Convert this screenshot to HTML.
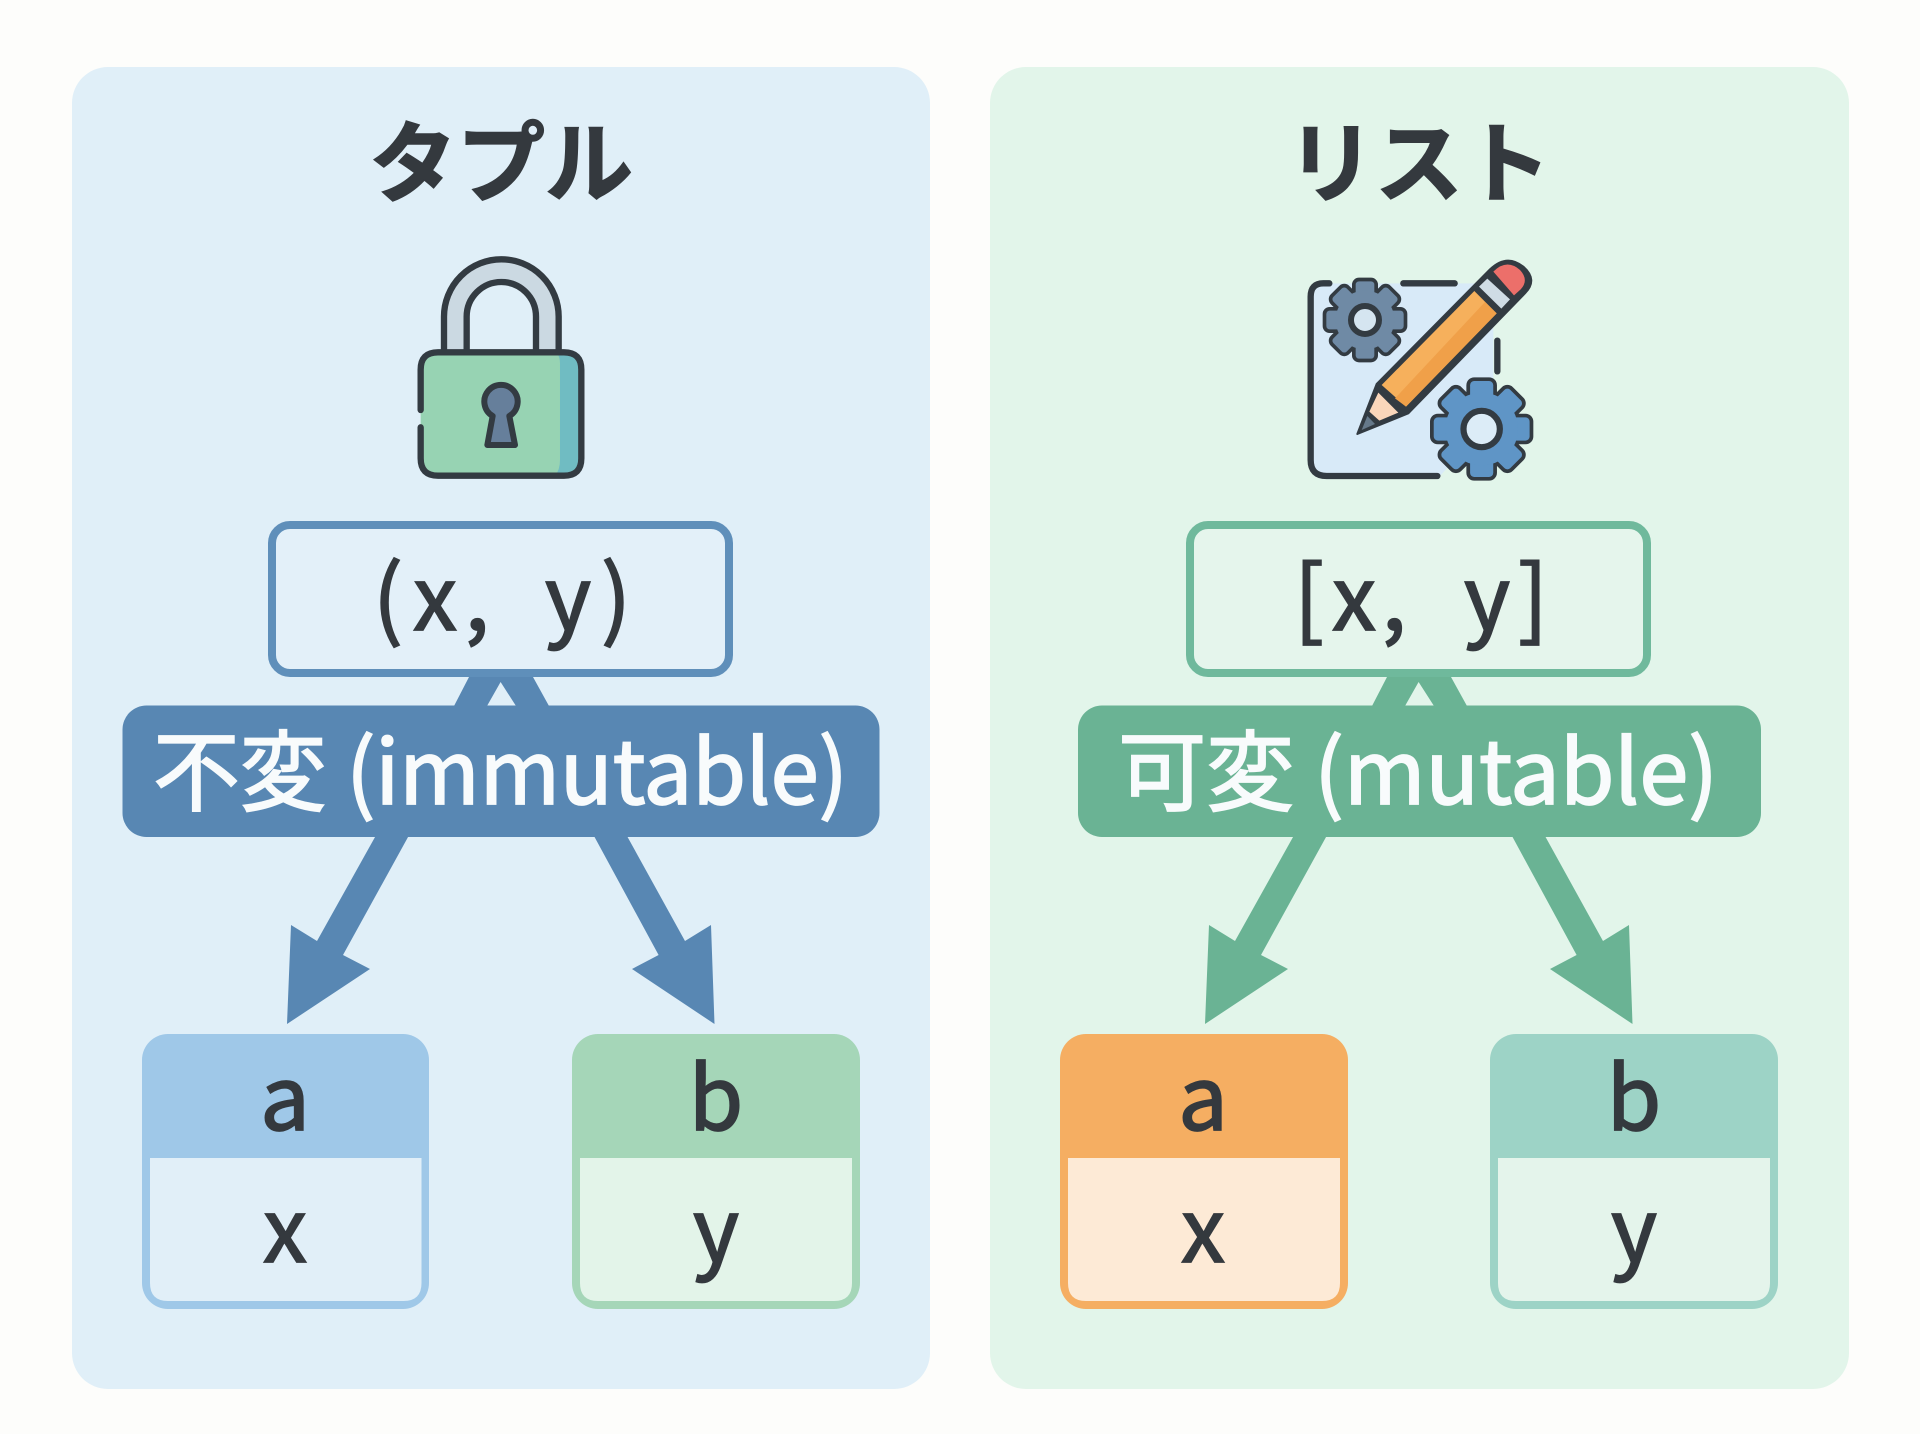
<!DOCTYPE html>
<html lang="ja"><head><meta charset="utf-8"><title>タプルとリスト</title>
<style>
html,body{margin:0;padding:0;width:1920px;height:1434px;background:#fdfdfb;overflow:hidden}
svg{display:block}
text{font-family:"Liberation Sans","Noto Sans CJK JP",sans-serif}
.n{font-family:"Noto Sans CJK JP","Liberation Sans",sans-serif;text-anchor:middle;fill:#34393e}
.m{font-size:88px;stroke:#34393e;stroke-width:1.8px}
.t{font-size:88px;font-weight:700;stroke:#34393e;stroke-width:1.5px}
.w{font-family:"Noto Sans CJK JP","Liberation Sans",sans-serif;fill:#f8fbfc;stroke:#f8fbfc;stroke-width:1.8px;font-size:88px}
.k{fill:none;stroke:#333b42;stroke-width:19;stroke-linecap:round;stroke-linejoin:round}
</style></head><body>
<svg width="1920" height="1434" viewBox="0 0 1920 1434" xmlns="http://www.w3.org/2000/svg">
<defs>
<g id="tooth"><rect x="-28" y="-116" width="56" height="46" rx="10"/></g>
<g id="teeth">
<use href="#tooth"/><use href="#tooth" transform="rotate(45)"/><use href="#tooth" transform="rotate(90)"/><use href="#tooth" transform="rotate(135)"/>
<use href="#tooth" transform="rotate(180)"/><use href="#tooth" transform="rotate(225)"/><use href="#tooth" transform="rotate(270)"/><use href="#tooth" transform="rotate(315)"/>
<circle r="88"/>
</g>
</defs>

<!-- panels -->
<rect x="72" y="67" width="858" height="1322" rx="36" fill="#e0eff8"/>
<rect x="990" y="67" width="859" height="1322" rx="36" fill="#e2f5ea"/>

<!-- titles -->
<text class="n t" x="501" y="195">タプル</text>
<text class="n t" x="1419" y="195">リスト</text>

<!-- lock -->
<g transform="translate(380,230) scale(.33333)">
<path d="M192,365 V260 A172,172 0 0 1 536,260 V365 H468 V260 A104,104 0 0 0 260,260 V365 Z" fill="#cbd9e2"/>
<path class="k" d="M192,360 V260 A172,172 0 0 1 536,260 V360"/>
<path class="k" d="M260,360 V260 A104,104 0 0 1 468,260 V360"/>
<rect x="122" y="367" width="482" height="370" rx="52" fill="#97d3b3"/>
<path d="M530,367 H552 Q604,367 604,419 V685 Q604,737 552,737 H525 Q540,720 540,690 V400 Q540,380 530,367 Z" fill="#70bcc2"/>
<path class="k" d="M122,540 V419 Q122,367 174,367 H552 Q604,367 604,419 V685 Q604,737 552,737 H174 Q122,737 122,685 V592"/>
<path d="M338,558 A50,50 0 1 1 388,558 L405,645 H322 Z" fill="#667f9b" stroke="#333b42" stroke-width="18" stroke-linejoin="round"/>
</g>

<!-- pencil / gears icon -->
<g transform="translate(1280,230) scale(.33333)">
<path d="M92,200 Q92,160 130,160 H640 V560 L480,738 H140 Q92,738 92,690 Z" fill="#d8eaf8"/>
<path class="k" d="M148,160 H130 Q92,160 92,200 V690 Q92,738 140,738 H472"/>
<path class="k" d="M370,160 H524"/>
<path class="k" d="M652,332 V424"/>
<g transform="translate(255,270)">
<use href="#teeth" fill="#333b42" stroke="#333b42" stroke-width="22" stroke-linejoin="round"/>
<use href="#teeth" fill="#6f8aa5"/>
<circle r="42" fill="#d5e5f0" stroke="#333b42" stroke-width="18"/>
</g>
<g transform="translate(605,597) scale(1.24)">
<use href="#teeth" fill="#333b42" stroke="#333b42" stroke-width="18" stroke-linejoin="round"/>
<use href="#teeth" fill="#5f95c6"/>
<circle r="44" fill="#dcecf7" stroke="#333b42" stroke-width="15"/>
</g>
<path d="M232,612 L290,462 L630,118 Q680,70 730,110 Q775,150 735,190 L385,550 Z" fill="#333b42" stroke="#333b42" stroke-width="6" stroke-linejoin="round"/>
<polygon points="305,465 583,183 650,250 378,530" fill="#f6b05c"/>
<polygon points="345,505 615,216 650,250 378,530" fill="#f0a049"/>
<polygon points="597,170 622,146 690,208 664,236" fill="#cfdce5"/>
<path d="M640,125 Q680,85 720,120 Q748,150 722,178 L702,196 Z" fill="#ec6f6a"/>
<polygon points="295,488 355,548 298,572 268,545" fill="#fad6ba"/>
<polygon points="262,558 285,582 245,600" fill="#66798a"/>
</g>

<!-- LEFT column shapes -->
<g fill="#5887b3">
<polygon points="469,677 454,706 487,706 500.6,682 516,706 549,706 533,677"/>
<rect x="122.500" y="705.500" width="757" height="131.500" rx="24"/>
<polygon points="375.600,836 408.600,836 343,955 370,969 287,1024 291,925 317,941"/>
<polygon points="594,836 627,836 685,941 711,925 714.500,1024 632,969 658.600,955"/>
</g>
<rect x="272" y="525" width="457" height="148" rx="18" fill="#e3f0f9" stroke="#5f8fba" stroke-width="8"/>
<text class="n m" x="388" y="630">(</text><text class="n m" x="435" y="630">x</text><text class="n m" x="477" y="630">,</text><text class="n m" x="568" y="630">y</text><text class="n m" x="616" y="630">)</text>
<text class="w" x="153" y="804" textLength="695" lengthAdjust="spacingAndGlyphs">不変 (immutable)</text>

<!-- left cards -->
<rect x="142" y="1034" width="287" height="275" rx="26" fill="#9fc8e8"/>
<path d="M150,1158 H421.500 V1283 Q421.500,1301 403.500,1301 H168 Q150,1301 150,1283 Z" fill="#e1eff8"/>
<text class="n m" x="285" y="1130">a</text>
<text class="n m" x="285" y="1262">x</text>
<rect x="572" y="1034" width="288" height="275" rx="26" fill="#a5d6b8"/>
<path d="M580,1158 H852 V1283 Q852,1301 834,1301 H598 Q580,1301 580,1283 Z" fill="#e3f4e9"/>
<text class="n m" x="716" y="1130">b</text>
<text class="n m" x="716" y="1262">y</text>

<!-- RIGHT column shapes -->
<g fill="#6ab394" transform="translate(918,0)">
<polygon points="469,677 454,706 487,706 500.6,682 516,706 549,706 533,677"/>
<rect x="160" y="705.500" width="683" height="131.500" rx="24"/>
<polygon points="375.600,836 408.600,836 343,955 370,969 287,1024 291,925 317,941"/>
<polygon points="594,836 627,836 685,941 711,925 714.500,1024 632,969 658.600,955"/>
</g>
<rect x="1190" y="525" width="457" height="148" rx="18" fill="#e5f5ec" stroke="#6fb99c" stroke-width="8"/>
<text class="n m" x="1309" y="630">[</text><text class="n m" x="1354" y="630">x</text><text class="n m" x="1394" y="630">,</text><text class="n m" x="1487" y="630">y</text><text class="n m" x="1533" y="630">]</text>
<text class="w" x="1118" y="804" textLength="600" lengthAdjust="spacingAndGlyphs">可変 (mutable)</text>

<!-- right cards -->
<rect x="1060" y="1034" width="288" height="275" rx="26" fill="#f5ae62"/>
<path d="M1068,1158 H1340 V1283 Q1340,1301 1322,1301 H1086 Q1068,1301 1068,1283 Z" fill="#fdead6"/>
<text class="n m" x="1203" y="1130">a</text>
<text class="n m" x="1203" y="1262">x</text>
<rect x="1490" y="1034" width="288" height="275" rx="26" fill="#9dd3c6"/>
<path d="M1498,1158 H1770 V1283 Q1770,1301 1752,1301 H1516 Q1498,1301 1498,1283 Z" fill="#e4f4eb"/>
<text class="n m" x="1634" y="1130">b</text>
<text class="n m" x="1634" y="1262">y</text>
</svg>
</body></html>
